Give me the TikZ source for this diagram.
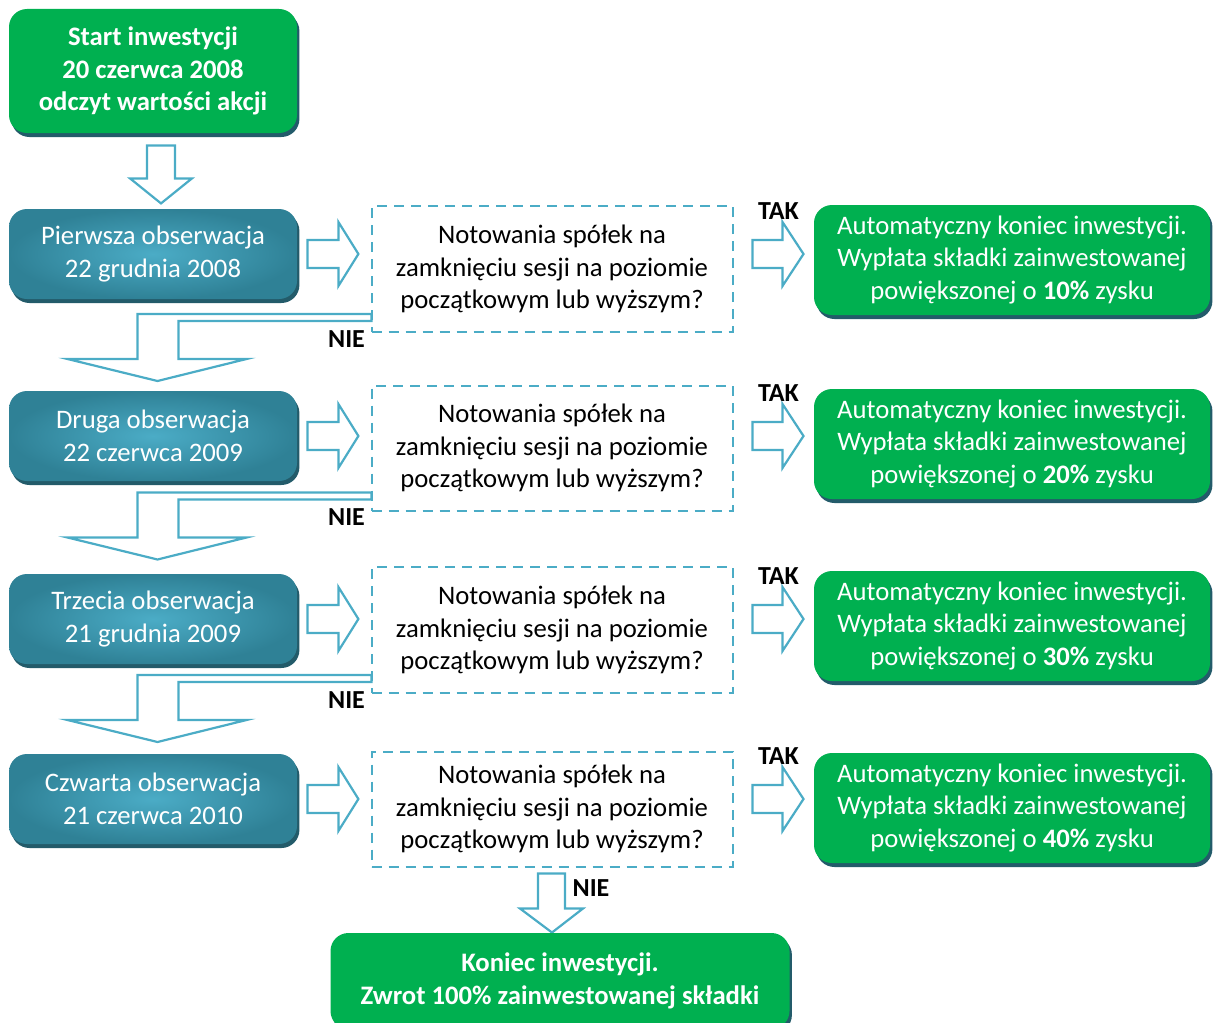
\documentclass[tikz,border=0pt]{standalone}
\usepackage{fontspec}
\setmainfont{Carlito}
\usepackage{tikz}
\usetikzlibrary{positioning,calc,shadows}

\definecolor{zielony}{HTML}{00B050}
\definecolor{morski}{HTML}{2F8196}
\definecolor{jasnymorski}{HTML}{4BACC6}
\definecolor{cien}{HTML}{235B6A}

\tikzset{
  tekst/.style={font=\fontsize{13.35}{16.25}\selectfont},
  cienbox/.style={drop shadow={shadow xshift=1.2pt, shadow yshift=-2pt, fill=cien, opacity=1}},
  startbox/.style={rectangle, rounded corners=9pt, fill=zielony, text=white, font=\fontsize{13.35}{16.25}\selectfont\bfseries, align=center, cienbox},
  obsbox/.style={tekst, rectangle, rounded corners=9pt, shading=radial, inner color=jasnymorski, outer color=morski, text=white, align=center, minimum width=144pt, minimum height=45pt, cienbox},
  pytbox/.style={tekst, rectangle, draw=jasnymorski, line width=1pt, dash pattern=on 5pt off 3.5pt, align=center, minimum width=180.5pt},
  koniecbox/.style={tekst, rectangle, rounded corners=9pt, fill=zielony, text=white, align=center, minimum width=198pt, minimum height=55pt, cienbox},
  blockarrow/.style={draw=jasnymorski, fill=white, line width=1.1pt, line join=miter},
  etykieta/.style={font=\fontsize{13}{15}\selectfont\bfseries, inner sep=0pt}
}

\begin{document}
\begin{tikzpicture}[x=0.5pt,y=-0.5pt]
\useasboundingbox (0,0) rectangle (1214,1022);

\node[startbox, minimum width=144pt, minimum height=62pt] (start) at (153,71) {Start inwestycji\\20 czerwca 2008\\odczyt wartości akcji};
\draw[blockarrow] ($(start.south)+(-6,12)$) -- ++(28,0) -- ++(0,33) -- ++(17,0) -- ++(-31,25) -- ++(-31,-25) -- ++(17,0) -- cycle;

\foreach \i/\yt/\yq/\hq/\yk/\nazwa/\data/\proc in {1/254/269/63pt/260/Pierwsza/22 grudnia 2008/10, 2/436/448/62.5pt/444/Druga/22 czerwca 2009/20, 3/619/630/63pt/626/Trzecia/21 grudnia 2009/30, 4/799/809/57.5pt/808/Czwarta/21 czerwca 2010/40} {
  \node[obsbox] (t\i) at (153,\yt) {\nazwa{} obserwacja\\\data};
  \node[pytbox, minimum height=\hq] (q\i) at (552,\yq) {Notowania spółek na\\zamknięciu sesji na poziomie\\początkowym lub wyższym?};
  \node[koniecbox] (k\i) at (1012,\yk) {Automatyczny koniec inwestycji.\\Wypłata składki zainwestowanej\\powiększonej o \textbf{\proc\%} zysku};
  \draw[blockarrow] ($(t\i.east)+(10,-14)$) -- ++(31,0) -- ++(0,-18) -- ++(20,32) -- ++(-20,32) -- ++(0,-18) -- ++(-31,0) -- cycle;
  \draw[blockarrow] ($(q\i.east |- t\i.east)+(19,-14)$) -- ++(30,0) -- ++(0,-18) -- ++(21,32) -- ++(-21,32) -- ++(0,-18) -- ++(-30,0) -- cycle;
  \node[etykieta] (tak\i) at ($(q\i.east |- t\i.east)+(45,-43)$) {TAK};
}

% NIE - do kolejnej obserwacji
\foreach \i in {1,2,3} {
  \draw[blockarrow] ($(q\i.south west)+(1,-19)$) -- ++(-234,0) -- ++(0,45) -- ++(-70,0) -- ++(90,22) -- ++(89,-22) -- ++(-68,0) -- ++(0,-38) -- ++(193,0) -- cycle;
  \node[etykieta] (nie\i) at ($(q\i.south west)+(-24,6)$) {NIE};
}

\draw[blockarrow] ($(q4.south)+(-14,6)$) -- ++(27,0) -- ++(0,35) -- ++(18,0) -- ++(-31,24) -- ++(-32,-24) -- ++(18,0) -- cycle;
\node[etykieta] (nie4) at ($(q4.south)+(39,21)$) {NIE};

\node[startbox, minimum width=229.5pt, minimum height=48pt] (koniec) at (560,981) {Koniec inwestycji.\\Zwrot 100\% zainwestowanej składki};

\end{tikzpicture}
\end{document}
